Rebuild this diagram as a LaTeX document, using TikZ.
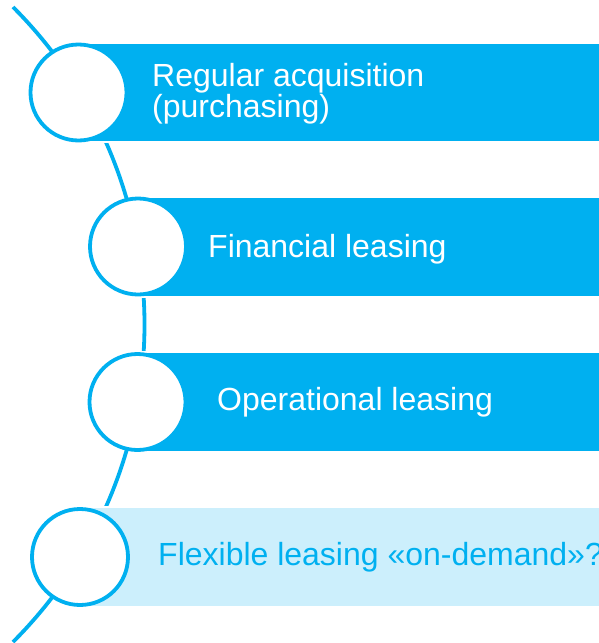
\documentclass[tikz,border=0pt]{standalone}
\usepackage{fontspec}
\setmainfont{Liberation Sans}
\definecolor{azure}{HTML}{00B0F0}
\colorlet{azurelight}{azure!20}
\begin{document}
\begin{tikzpicture}[x=1pt,y=-1pt,
  bullet/.style={circle, draw=azure, line width=3.8pt, fill=white,
    minimum size=96pt, inner sep=0pt},
  bardark/.style={fill=azure, draw=white, line width=2pt},
  barlight/.style={fill=azurelight, draw=white, line width=2pt},
  label/.style={anchor=base west, inner sep=0pt,
    font=\fontsize{32}{32}\selectfont},
  spine/.style={draw=azure, line width=3.8pt}]
\useasboundingbox (0,0) rectangle (598,643);

% curved spine running through the four bullets
\coordinate (hub) at (-304.5,324.5);
\draw[spine] (hub) ++(-45:449) arc[start angle=-45, end angle=45, radius=449];

% bars
\path[bardark]  (78.5,43)  rectangle (610,142);
\path[bardark]  (138,197)  rectangle (610,297);
\path[bardark]  (137.5,352) rectangle (610,452);
\path[barlight] (80,507)   rectangle (610,607);

% bullets
\node[bullet] (c1) at (78.5,92.5) {};
\node[bullet] (c2) at (138,246.5) {};
\node[bullet] (c3) at (137.5,402) {};
\node[bullet] (c4) at (80,557) {};

% captions
\node[label, text=white] (t1a) at (152,86)  {Regular acquisition};
\node[label, text=white] (t1b) at (152,117) {(purchasing)};
\node[label, text=white] (t2)  at (208,257) {Financial leasing};
\node[label, text=white] (t3)  at (217,410) {Operational leasing};
\node[label, text=azure] (t4)  at (158,565) {Flexible leasing «on-demand»?};
\end{tikzpicture}
\end{document}
